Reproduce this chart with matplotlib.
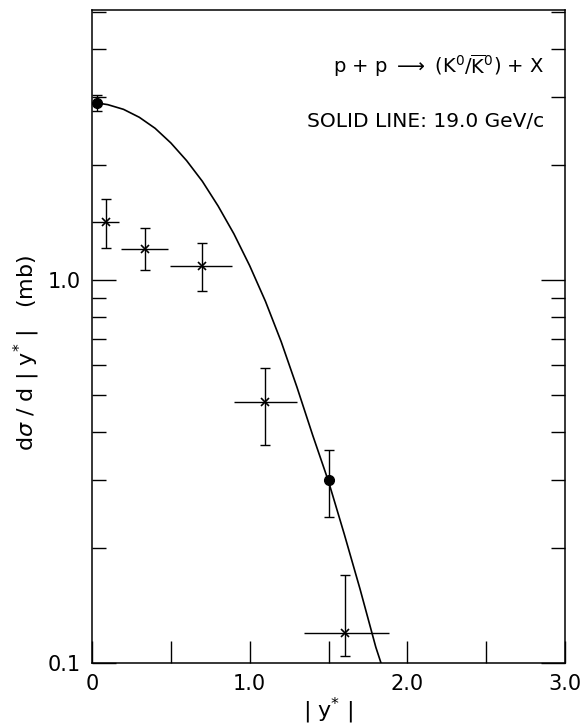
import matplotlib
matplotlib.use("Agg")
import matplotlib.pyplot as plt
from matplotlib.ticker import FixedLocator, NullFormatter

plt.rcParams['font.family'] = ['DejaVu Sans']
plt.rcParams['mathtext.fontset'] = 'dejavusans'

# Filled circles (19.0 GeV/c reference points)
circ_x = [0.03, 1.50]
circ_y = [2.90, 0.30]
circ_ylo = [2.76, 0.24]
circ_yhi = [3.04, 0.36]

# Star points (with x bins)
star_x = [0.087, 0.336, 0.696, 1.097, 1.604]
star_y = [1.42, 1.205, 1.09, 0.48, 0.120]
star_xlo = [0.0, 0.184, 0.495, 0.90, 1.346]
star_xhi = [0.17, 0.48, 0.89, 1.30, 1.885]
star_ylo = [1.21, 1.06, 0.938, 0.371, 0.104]
star_yhi = [1.63, 1.37, 1.25, 0.588, 0.170]

# Solid line
line_x = [0.03, 0.1, 0.2, 0.3, 0.4, 0.5, 0.6, 0.7, 0.8, 0.9, 1.0, 1.1, 1.2,
          1.3, 1.4, 1.5, 1.6, 1.7, 1.75, 1.8, 1.84]
line_y = [2.90, 2.87, 2.79, 2.66, 2.49, 2.28, 2.05, 1.81, 1.56, 1.32, 1.09,
          0.88, 0.69, 0.525, 0.393, 0.298, 0.217, 0.156, 0.131, 0.110, 0.098]

xticks = [0, 1.0, 2.0, 3.0]
xticklabels = ['0', '1.0', '2.0', '3.0']
xminor = [0.5, 1.5, 2.5]
yticks = [0.1, 1.0]
yticklabels = ['0.1', '1.0']
yminor = [0.2, 0.3, 0.4, 0.5, 0.6, 0.7, 0.8, 0.9, 2, 3, 4, 5]

fig = plt.figure(figsize=(5.82, 7.27), dpi=100)
ax = fig.add_axes([92/582, 64/727, 473/582, 653/727])

ax.set_yscale('log')
ax.set_xlim(0, 3.0)
ax.set_ylim(0.1, 5.07)

ax.plot(line_x, line_y, color='black', lw=1.2, solid_joinstyle='round')

# circles
yerr_c = [[y - lo for y, lo in zip(circ_y, circ_ylo)], [hi - y for y, hi in zip(circ_y, circ_yhi)]]
ax.errorbar(circ_x, circ_y, yerr=yerr_c, fmt='o', color='black', ms=7, capsize=3.5,
            elinewidth=1.0, capthick=1.0, clip_on=False, zorder=3)

# stars
yerr_s = [[y - lo for y, lo in zip(star_y, star_ylo)], [hi - y for y, hi in zip(star_y, star_yhi)]]
xerr_s = [[x - lo for x, lo in zip(star_x, star_xlo)], [hi - x for x, hi in zip(star_x, star_xhi)]]
ax.errorbar(star_x, star_y, yerr=yerr_s, fmt='none', ecolor='black', capsize=3.5,
            elinewidth=1.0, capthick=1.0, zorder=3)
ax.errorbar(star_x, star_y, xerr=xerr_s, fmt='none', ecolor='black', capsize=0,
            elinewidth=1.0, zorder=3)
ax.plot(star_x, star_y, 'x', color='black', ms=6, mew=1.2, zorder=4)

# axes styling
for s in ax.spines.values():
    s.set_linewidth(1.1)

ax.xaxis.set_major_locator(FixedLocator(xticks))
ax.set_xticklabels(xticklabels)
ax.xaxis.set_minor_locator(FixedLocator(xminor))
ax.tick_params(axis='x', which='both', direction='in', length=16, width=1.0,
               top=False, bottom=True, labelsize=15, pad=8)

ax.yaxis.set_major_locator(FixedLocator(yticks))
ax.set_yticklabels(yticklabels)
ax.yaxis.set_minor_locator(FixedLocator(yminor))
ax.yaxis.set_minor_formatter(NullFormatter())
ax.tick_params(axis='y', which='major', direction='in', length=17, width=1.0,
               left=True, right=True, labelsize=15, pad=8)
ax.tick_params(axis='y', which='minor', direction='in', length=10, width=1.0,
               left=True, right=True)

ax.set_xlabel('| y$^{*}$ |', fontsize=16, labelpad=1)
ax.set_ylabel('d$\\sigma$ / d | y$^{*}$ |   (mb)', fontsize=16)
ax.yaxis.set_label_coords(-0.105, 0.475)

ax.text(0.955, 0.915, r'p + p $\longrightarrow$ (K$^{0}$/$\overline{\mathrm{K}}^{0}$) + X',
        transform=ax.transAxes, ha='right', va='center', fontsize=14)
ax.text(0.955, 0.83, 'SOLID LINE: 19.0 GeV/c',
        transform=ax.transAxes, ha='right', va='center', fontsize=14.5)

fig.savefig('out.png', dpi=100)
